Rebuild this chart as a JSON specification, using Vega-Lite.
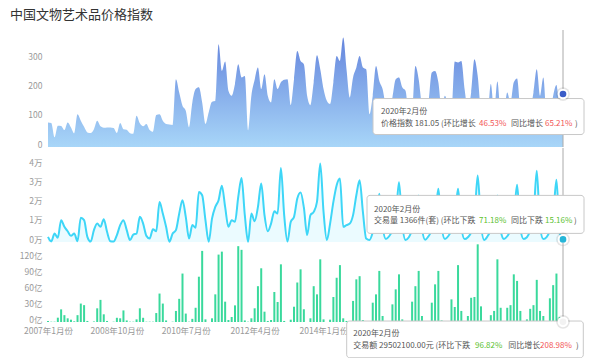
{
"$schema": "https://vega.github.io/schema/vega-lite/v6.json",
"padding": {"left": 0, "top": 8, "right": 5, "bottom": 0},
"title": {"text": "中国文物艺术品价格指数", "anchor": "start", "frame": "bounds", "fontSize": 13, "fontWeight": "normal", "color": "#333", "font": "Noto Sans CJK SC", "dx": 10, "offset": 8},
"config": {
  "font": "Noto Sans CJK SC",
  "view": {"stroke": null},
  "axis": {"labelColor": "#999", "labelFontSize": 8.5, "labelFont": "Noto Sans CJK SC", "ticks": false, "domain": false, "grid": false},
  "axisY": {"labelPadding": 6, "minExtent": 48, "maxExtent": 48, "labelOffset": -3},
  "axisX": {"labelPadding": 4, "labelAngle": 0}
},
"datasets": {
"d": [
{"m":"2007年1月份","p":84,"v":2700,"a":2},
{"m":"2007年2月份","p":82,"v":300,"a":0.6},
{"m":"2007年3月份","p":33,"v":4400,"a":0.6},
{"m":"2007年4月份","p":73,"v":2200,"a":8.2},
{"m":"2007年5月份","p":72,"v":11400,"a":24},
{"m":"2007年6月份","p":58,"v":7900,"a":13},
{"m":"2007年7月份","p":84,"v":5600,"a":7},
{"m":"2007年8月份","p":67,"v":3200,"a":4.4},
{"m":"2007年9月份","p":47,"v":4400,"a":1.3},
{"m":"2007年10月份","p":112,"v":400,"a":13},
{"m":"2007年11月份","p":90,"v":12600,"a":35},
{"m":"2007年12月份","p":69,"v":11400,"a":32},
{"m":"2008年1月份","p":50,"v":2700,"a":2},
{"m":"2008年2月份","p":48,"v":200,"a":0},
{"m":"2008年3月份","p":61,"v":6200,"a":1},
{"m":"2008年4月份","p":90,"v":9600,"a":26},
{"m":"2008年5月份","p":71,"v":7900,"a":42},
{"m":"2008年6月份","p":66,"v":11900,"a":14.6},
{"m":"2008年7月份","p":67,"v":5300,"a":2},
{"m":"2008年8月份","p":67,"v":400,"a":0},
{"m":"2008年9月份","p":65,"v":200,"a":0.6},
{"m":"2008年10月份","p":48,"v":3600,"a":8},
{"m":"2008年11月份","p":82,"v":8800,"a":7},
{"m":"2008年12月份","p":61,"v":11400,"a":22},
{"m":"2009年1月份","p":59,"v":6200,"a":3},
{"m":"2009年2月份","p":47,"v":1000,"a":0.6},
{"m":"2009年3月份","p":45,"v":3900,"a":0.6},
{"m":"2009年4月份","p":107,"v":4400,"a":5},
{"m":"2009年5月份","p":81,"v":13100,"a":26},
{"m":"2009年6月份","p":71,"v":9600,"a":8},
{"m":"2009年7月份","p":79,"v":3200,"a":0.6},
{"m":"2009年8月份","p":58,"v":1800,"a":0.6},
{"m":"2009年9月份","p":52,"v":6700,"a":0.6},
{"m":"2009年10月份","p":109,"v":5600,"a":17},
{"m":"2009年11月份","p":112,"v":20900,"a":54},
{"m":"2009年12月份","p":90,"v":14800,"a":35},
{"m":"2010年1月份","p":79,"v":7900,"a":3},
{"m":"2010年2月份","p":77,"v":100,"a":0},
{"m":"2010年3月份","p":75,"v":4400,"a":0.6},
{"m":"2010年4月份","p":232,"v":6200,"a":21},
{"m":"2010年5月份","p":186,"v":14800,"a":44},
{"m":"2010年6月份","p":141,"v":21800,"a":92},
{"m":"2010年7月份","p":124,"v":13100,"a":16},
{"m":"2010年8月份","p":67,"v":1800,"a":0.6},
{"m":"2010年9月份","p":152,"v":8800,"a":6},
{"m":"2010年10月份","p":198,"v":7400,"a":27},
{"m":"2010年11月份","p":204,"v":26100,"a":86},
{"m":"2010年12月份","p":152,"v":24400,"a":135},
{"m":"2011年1月份","p":79,"v":11400,"a":5},
{"m":"2011年2月份","p":119,"v":100,"a":0},
{"m":"2011年3月份","p":155,"v":12200,"a":7},
{"m":"2011年4月份","p":157,"v":18300,"a":52.5},
{"m":"2011年5月份","p":351,"v":21800,"a":128},
{"m":"2011年6月份","p":260,"v":29300,"a":133.6},
{"m":"2011年7月份","p":292,"v":18300,"a":38.6},
{"m":"2011年8月份","p":192,"v":7900,"a":3.8},
{"m":"2011年9月份","p":175,"v":11400,"a":9.5},
{"m":"2011年10月份","p":215,"v":10500,"a":31.6},
{"m":"2011年11月份","p":283,"v":23500,"a":144},
{"m":"2011年12月份","p":238,"v":33400,"a":137},
{"m":"2012年1月份","p":243,"v":14000,"a":3},
{"m":"2012年2月份","p":56,"v":100,"a":0.6},
{"m":"2012年3月份","p":175,"v":14800,"a":7},
{"m":"2012年4月份","p":230,"v":10800,"a":26},
{"m":"2012年5月份","p":272,"v":18300,"a":68},
{"m":"2012年6月份","p":198,"v":30500,"a":102},
{"m":"2012年7月份","p":249,"v":14000,"a":19.6},
{"m":"2012年8月份","p":175,"v":5600,"a":2},
{"m":"2012年9月份","p":152,"v":9600,"a":3.8},
{"m":"2012年10月份","p":232,"v":16000,"a":57},
{"m":"2012年11月份","p":198,"v":14800,"a":38},
{"m":"2012年12月份","p":221,"v":38600,"a":109.5},
{"m":"2013年1月份","p":230,"v":14000,"a":2},
{"m":"2013年2月份","p":232,"v":200,"a":0},
{"m":"2013年3月份","p":143,"v":10500,"a":4.4},
{"m":"2013年4月份","p":232,"v":13100,"a":29},
{"m":"2013年5月份","p":328,"v":22700,"a":75},
{"m":"2013年6月份","p":294,"v":25800,"a":100},
{"m":"2013年7月份","p":283,"v":18000,"a":24},
{"m":"2013年8月份","p":175,"v":3600,"a":0},
{"m":"2013年9月份","p":143,"v":14000,"a":7},
{"m":"2013年10月份","p":221,"v":15700,"a":68},
{"m":"2013年11月份","p":314,"v":20900,"a":52.5},
{"m":"2013年12月份","p":266,"v":40900,"a":119},
{"m":"2014年1月份","p":198,"v":15700,"a":5},
{"m":"2014年2月份","p":158,"v":1000,"a":0},
{"m":"2014年3月份","p":147,"v":9600,"a":4.4},
{"m":"2014年4月份","p":221,"v":20900,"a":47.5},
{"m":"2014年5月份","p":311,"v":29600,"a":84},
{"m":"2014年6月份","p":294,"v":33100,"a":108},
{"m":"2014年7月份","p":374,"v":7900,"a":7},
{"m":"2014年8月份","p":266,"v":8800,"a":2},
{"m":"2014年9月份","p":169,"v":9600,"a":1},
{"m":"2014年10月份","p":238,"v":14000,"a":40},
{"m":"2014年11月份","p":272,"v":24400,"a":81},
{"m":"2014年12月份","p":311,"v":32200,"a":87},
{"m":"2015年1月份","p":272,"v":15700,"a":3.8},
{"m":"2015年2月份","p":266,"v":1800,"a":0},
{"m":"2015年3月份","p":112,"v":1000,"a":0},
{"m":"2015年4月份","p":175,"v":5000,"a":36.7},
{"m":"2015年5月份","p":277,"v":12000,"a":52.5},
{"m":"2015年6月份","p":226,"v":25100,"a":97},
{"m":"2015年7月份","p":198,"v":8000,"a":11.4},
{"m":"2015年8月份","p":140,"v":1500,"a":1},
{"m":"2015年9月份","p":120,"v":3000,"a":1},
{"m":"2015年10月份","p":170,"v":6000,"a":33.5},
{"m":"2015年11月份","p":232,"v":12000,"a":62},
{"m":"2015年12月份","p":238,"v":31100,"a":90.5},
{"m":"2016年1月份","p":204,"v":9000,"a":5},
{"m":"2016年2月份","p":192,"v":1000,"a":1},
{"m":"2016年3月份","p":110,"v":2500,"a":1},
{"m":"2016年4月份","p":120,"v":6000,"a":38.6},
{"m":"2016年5月份","p":277,"v":10000,"a":68},
{"m":"2016年6月份","p":232,"v":24200,"a":97},
{"m":"2016年7月份","p":140,"v":7000,"a":11.4},
{"m":"2016年8月份","p":110,"v":1200,"a":1},
{"m":"2016年9月份","p":150,"v":3000,"a":1},
{"m":"2016年10月份","p":255,"v":6000,"a":36.7},
{"m":"2016年11月份","p":260,"v":12000,"a":71.5},
{"m":"2016年12月份","p":221,"v":27700,"a":97},
{"m":"2017年1月份","p":130,"v":8000,"a":3},
{"m":"2017年2月份","p":175,"v":1500,"a":1},
{"m":"2017年3月份","p":140,"v":3000,"a":1},
{"m":"2017年4月份","p":120,"v":6000,"a":43},
{"m":"2017年5月份","p":292,"v":12000,"a":28.5},
{"m":"2017年6月份","p":289,"v":27700,"a":108},
{"m":"2017年7月份","p":294,"v":8000,"a":21},
{"m":"2017年8月份","p":198,"v":1500,"a":1},
{"m":"2017年9月份","p":130,"v":2500,"a":11.4},
{"m":"2017年10月份","p":186,"v":5000,"a":46},
{"m":"2017年11月份","p":300,"v":12000,"a":47.5},
{"m":"2017年12月份","p":243,"v":34600,"a":147.5},
{"m":"2018年1月份","p":130,"v":9000,"a":29.7},
{"m":"2018年2月份","p":120,"v":1000,"a":1},
{"m":"2018年3月份","p":110,"v":3000,"a":1},
{"m":"2018年4月份","p":215,"v":6000,"a":13},
{"m":"2018年5月份","p":120,"v":10000,"a":21},
{"m":"2018年6月份","p":224,"v":24200,"a":119},
{"m":"2018年7月份","p":120,"v":6000,"a":27},
{"m":"2018年8月份","p":120,"v":1500,"a":1},
{"m":"2018年9月份","p":186,"v":3000,"a":27},
{"m":"2018年10月份","p":150,"v":6000,"a":32},
{"m":"2018年11月份","p":221,"v":12000,"a":90.5},
{"m":"2018年12月份","p":234,"v":29800,"a":78},
{"m":"2019年1月份","p":130,"v":7000,"a":21},
{"m":"2019年2月份","p":110,"v":1610,"a":0.1},
{"m":"2019年3月份","p":120,"v":2500,"a":5},
{"m":"2019年4月份","p":130,"v":6000,"a":25},
{"m":"2019年5月份","p":186,"v":13000,"a":32},
{"m":"2019年6月份","p":266,"v":37200,"a":80},
{"m":"2019年7月份","p":175,"v":8000,"a":21},
{"m":"2019年8月份","p":238,"v":1500,"a":11.4},
{"m":"2019年9月份","p":110,"v":2500,"a":1},
{"m":"2019年10月份","p":110,"v":6000,"a":45},
{"m":"2019年11月份","p":175,"v":13000,"a":70},
{"m":"2019年12月份","p":212,"v":32400,"a":92},
{"m":"2020年1月份","p":124,"v":4740,"a":9.28},
{"m":"2020年2月份","p":181.05,"v":1366,"a":0.295021}
],
"tip": [{"m":"2020年2月份","p":181.05,"v":1366,"a":0.295021}]
},
"spacing": 1,
"bounds": "flush",
"resolve": {"scale": {"y": "independent"}},
"vconcat": [
{
"width": 515, "height": 117,
"layer": [
{"data": {"name": "d"}, "mark": {"type": "area", "interpolate": "monotone", "fill": {"gradient": "linear", "x1": 0, "y1": 1, "x2": 0, "y2": 0, "stops": [{"offset": 0, "color": "#a8d6f8"}, {"offset": 1, "color": "#6585dd"}]}},
 "encoding": {"x": {"field":"m","type":"ordinal","sort":null,"scale":{"type":"point","padding":0},"axis":null}, "y": {"field":"p","type":"quantitative","title":null,"scale":{"domain":[0,400],"nice":false},"axis":{"values":[0,100,200,300]}}}},
{"data": {"name": "tip"}, "mark": {"type": "rule", "color": "#aaa", "strokeWidth": 1},
 "encoding": {"x": {"field":"m","type":"ordinal","sort":null,"scale":{"type":"point","padding":0},"axis":null}}},
{"data": {"name": "tip"}, "mark": {"type": "rect", "fill": "#fff", "stroke": "#c8c8c8", "strokeWidth": 1, "cornerRadius": 3, "xOffset": -190, "x2Offset": 21, "yOffset": 4.5, "y2Offset": 40.5},
 "encoding": {"x": {"field":"m","type":"ordinal","sort":null,"scale":{"type":"point","padding":0},"axis":null}, "x2": {"field": "m"}, "y": {"field":"p","type":"quantitative","title":null,"scale":{"domain":[0,400],"nice":false},"axis":{"values":[0,100,200,300]}}, "y2": {"field": "p"}}},
{"data": {"name": "tip"}, "mark": {"type": "point", "filled": true, "size": 190, "color": "#000", "opacity": 0.1},
 "encoding": {"x": {"field":"m","type":"ordinal","sort":null,"scale":{"type":"point","padding":0},"axis":null}, "y": {"field":"p","type":"quantitative","title":null,"scale":{"domain":[0,400],"nice":false},"axis":{"values":[0,100,200,300]}}}},
{"data": {"name": "tip"}, "mark": {"type": "point", "filled": true, "size": 75, "fill": "#3a5cc8", "stroke": "#fff", "strokeWidth": 2, "opacity": 1},
 "encoding": {"x": {"field":"m","type":"ordinal","sort":null,"scale":{"type":"point","padding":0},"axis":null}, "y": {"field":"p","type":"quantitative","title":null,"scale":{"domain":[0,400],"nice":false},"axis":{"values":[0,100,200,300]}}}},
{"data": {"name": "tip"}, "mark": {"type": "text", "text": "2020年2月份", "align": "left", "baseline": "middle", "dx": -182, "dy": 17.5, "fontSize": 8, "color": "#555"},
 "encoding": {"x": {"field":"m","type":"ordinal","sort":null,"scale":{"type":"point","padding":0},"axis":null}, "y": {"field":"p","type":"quantitative","title":null,"scale":{"domain":[0,400],"nice":false},"axis":{"values":[0,100,200,300]}}}},
{"data": {"name": "tip"}, "mark": {"type": "text", "text": "价格指数 181.05 (环比增长", "align": "left", "baseline": "middle", "dx": -182, "dy": 30, "fontSize": 8, "color": "#555"},
 "encoding": {"x": {"field":"m","type":"ordinal","sort":null,"scale":{"type":"point","padding":0},"axis":null}, "y": {"field":"p","type":"quantitative","title":null,"scale":{"domain":[0,400],"nice":false},"axis":{"values":[0,100,200,300]}}}},
{"data": {"name": "tip"}, "mark": {"type": "text", "text": "46.53%", "align": "left", "baseline": "middle", "dx": -84, "dy": 30, "fontSize": 8, "color": "#f25555"},
 "encoding": {"x": {"field":"m","type":"ordinal","sort":null,"scale":{"type":"point","padding":0},"axis":null}, "y": {"field":"p","type":"quantitative","title":null,"scale":{"domain":[0,400],"nice":false},"axis":{"values":[0,100,200,300]}}}},
{"data": {"name": "tip"}, "mark": {"type": "text", "text": "同比增长", "align": "left", "baseline": "middle", "dx": -52, "dy": 30, "fontSize": 8, "color": "#555"},
 "encoding": {"x": {"field":"m","type":"ordinal","sort":null,"scale":{"type":"point","padding":0},"axis":null}, "y": {"field":"p","type":"quantitative","title":null,"scale":{"domain":[0,400],"nice":false},"axis":{"values":[0,100,200,300]}}}},
{"data": {"name": "tip"}, "mark": {"type": "text", "text": "65.21%", "align": "left", "baseline": "middle", "dx": -18, "dy": 30, "fontSize": 8, "color": "#f25555"},
 "encoding": {"x": {"field":"m","type":"ordinal","sort":null,"scale":{"type":"point","padding":0},"axis":null}, "y": {"field":"p","type":"quantitative","title":null,"scale":{"domain":[0,400],"nice":false},"axis":{"values":[0,100,200,300]}}}},
{"data": {"name": "tip"}, "mark": {"type": "text", "text": ")", "align": "left", "baseline": "middle", "dx": 12, "dy": 30, "fontSize": 8, "color": "#555"},
 "encoding": {"x": {"field":"m","type":"ordinal","sort":null,"scale":{"type":"point","padding":0},"axis":null}, "y": {"field":"p","type":"quantitative","title":null,"scale":{"domain":[0,400],"nice":false},"axis":{"values":[0,100,200,300]}}}}
]
},
{
"width": 515, "height": 94,
"layer": [
{"data": {"name": "d"}, "mark": {"type": "area", "interpolate": "monotone", "color": "#ebfbff", "opacity": 1},
 "encoding": {"x": {"field":"m","type":"ordinal","sort":null,"scale":{"type":"point","padding":0},"axis":null}, "y": {"field":"v","type":"quantitative","title":null,"scale":{"domain":[0,49000],"nice":false},"axis":{"values":[0,10000,20000,30000,40000],"labelExpr":"datum.value/10000 + '万'"}}}},
{"data": {"name": "d"}, "mark": {"type": "line", "interpolate": "monotone", "color": "#3ed6f7", "strokeWidth": 2},
 "encoding": {"x": {"field":"m","type":"ordinal","sort":null,"scale":{"type":"point","padding":0},"axis":null}, "y": {"field":"v","type":"quantitative","title":null,"scale":{"domain":[0,49000],"nice":false},"axis":{"values":[0,10000,20000,30000,40000],"labelExpr":"datum.value/10000 + '万'"}}}},
{"data": {"name": "tip"}, "mark": {"type": "rule", "color": "#aaa", "strokeWidth": 1},
 "encoding": {"x": {"field":"m","type":"ordinal","sort":null,"scale":{"type":"point","padding":0},"axis":null}}},
{"data": {"name": "tip"}, "mark": {"type": "rect", "fill": "#fff", "stroke": "#c8c8c8", "strokeWidth": 1, "cornerRadius": 3, "xOffset": -196, "x2Offset": 21, "yOffset": -44, "y2Offset": -6},
 "encoding": {"x": {"field":"m","type":"ordinal","sort":null,"scale":{"type":"point","padding":0},"axis":null}, "x2": {"field": "m"}, "y": {"field":"v","type":"quantitative","title":null,"scale":{"domain":[0,49000],"nice":false},"axis":{"values":[0,10000,20000,30000,40000],"labelExpr":"datum.value/10000 + '万'"}}, "y2": {"field": "v"}}},
{"data": {"name": "tip"}, "mark": {"type": "point", "filled": true, "size": 190, "color": "#000", "opacity": 0.1},
 "encoding": {"x": {"field":"m","type":"ordinal","sort":null,"scale":{"type":"point","padding":0},"axis":null}, "y": {"field":"v","type":"quantitative","title":null,"scale":{"domain":[0,49000],"nice":false},"axis":{"values":[0,10000,20000,30000,40000],"labelExpr":"datum.value/10000 + '万'"}}}},
{"data": {"name": "tip"}, "mark": {"type": "point", "filled": true, "size": 75, "fill": "#27b6d8", "stroke": "#fff", "strokeWidth": 2, "opacity": 1},
 "encoding": {"x": {"field":"m","type":"ordinal","sort":null,"scale":{"type":"point","padding":0},"axis":null}, "y": {"field":"v","type":"quantitative","title":null,"scale":{"domain":[0,49000],"nice":false},"axis":{"values":[0,10000,20000,30000,40000],"labelExpr":"datum.value/10000 + '万'"}}}},
{"data": {"name": "tip"}, "mark": {"type": "text", "text": "2020年2月份", "align": "left", "baseline": "middle", "dx": -189, "dy": -29.6, "fontSize": 8, "color": "#555"},
 "encoding": {"x": {"field":"m","type":"ordinal","sort":null,"scale":{"type":"point","padding":0},"axis":null}, "y": {"field":"v","type":"quantitative","title":null,"scale":{"domain":[0,49000],"nice":false},"axis":{"values":[0,10000,20000,30000,40000],"labelExpr":"datum.value/10000 + '万'"}}}},
{"data": {"name": "tip"}, "mark": {"type": "text", "text": "交易量 1366件(套) (环比下跌", "align": "left", "baseline": "middle", "dx": -189, "dy": -18.2, "fontSize": 8, "color": "#555"},
 "encoding": {"x": {"field":"m","type":"ordinal","sort":null,"scale":{"type":"point","padding":0},"axis":null}, "y": {"field":"v","type":"quantitative","title":null,"scale":{"domain":[0,49000],"nice":false},"axis":{"values":[0,10000,20000,30000,40000],"labelExpr":"datum.value/10000 + '万'"}}}},
{"data": {"name": "tip"}, "mark": {"type": "text", "text": "71.18%", "align": "left", "baseline": "middle", "dx": -84, "dy": -18.2, "fontSize": 8, "color": "#5cbf2f"},
 "encoding": {"x": {"field":"m","type":"ordinal","sort":null,"scale":{"type":"point","padding":0},"axis":null}, "y": {"field":"v","type":"quantitative","title":null,"scale":{"domain":[0,49000],"nice":false},"axis":{"values":[0,10000,20000,30000,40000],"labelExpr":"datum.value/10000 + '万'"}}}},
{"data": {"name": "tip"}, "mark": {"type": "text", "text": "同比下跌", "align": "left", "baseline": "middle", "dx": -52, "dy": -18.2, "fontSize": 8, "color": "#555"},
 "encoding": {"x": {"field":"m","type":"ordinal","sort":null,"scale":{"type":"point","padding":0},"axis":null}, "y": {"field":"v","type":"quantitative","title":null,"scale":{"domain":[0,49000],"nice":false},"axis":{"values":[0,10000,20000,30000,40000],"labelExpr":"datum.value/10000 + '万'"}}}},
{"data": {"name": "tip"}, "mark": {"type": "text", "text": "15.16%", "align": "left", "baseline": "middle", "dx": -18, "dy": -18.2, "fontSize": 8, "color": "#5cbf2f"},
 "encoding": {"x": {"field":"m","type":"ordinal","sort":null,"scale":{"type":"point","padding":0},"axis":null}, "y": {"field":"v","type":"quantitative","title":null,"scale":{"domain":[0,49000],"nice":false},"axis":{"values":[0,10000,20000,30000,40000],"labelExpr":"datum.value/10000 + '万'"}}}},
{"data": {"name": "tip"}, "mark": {"type": "text", "text": ")", "align": "left", "baseline": "middle", "dx": 11, "dy": -18.2, "fontSize": 8, "color": "#555"},
 "encoding": {"x": {"field":"m","type":"ordinal","sort":null,"scale":{"type":"point","padding":0},"axis":null}, "y": {"field":"v","type":"quantitative","title":null,"scale":{"domain":[0,49000],"nice":false},"axis":{"values":[0,10000,20000,30000,40000],"labelExpr":"datum.value/10000 + '万'"}}}}
]
},
{
"width": 515, "height": 79,
"layer": [
{"data": {"name": "d"}, "mark": {"type": "bar", "size": 2, "color": "#3ad99c"},
 "encoding": {"x": {"field":"m","type":"ordinal","sort":null,"scale":{"type":"point","padding":0},"axis":{"values":["2007年1月份","2008年10月份","2010年7月份","2012年4月份","2014年1月份"],"title":null}}, "y": {"field":"a","type":"quantitative","title":null,"scale":{"domain":[0,150],"nice":false},"axis":{"values":[0,30,60,90,120],"labelExpr":"datum.value + '亿'"}}}},
{"data": {"name": "tip"}, "mark": {"type": "rule", "color": "#aaa", "strokeWidth": 1},
 "encoding": {"x": {"field":"m","type":"ordinal","sort":null,"scale":{"type":"point","padding":0},"axis":{"values":["2007年1月份","2008年10月份","2010年7月份","2012年4月份","2014年1月份"],"title":null}}}},
{"data": {"name": "tip"}, "mark": {"type": "rect", "fill": "#fff", "stroke": "#c8c8c8", "strokeWidth": 1, "cornerRadius": 3, "xOffset": -216.3, "x2Offset": 20.3, "yOffset": -0.8, "y2Offset": 35.9},
 "encoding": {"x": {"field":"m","type":"ordinal","sort":null,"scale":{"type":"point","padding":0},"axis":{"values":["2007年1月份","2008年10月份","2010年7月份","2012年4月份","2014年1月份"],"title":null}}, "x2": {"field": "m"}, "y": {"field":"a","type":"quantitative","title":null,"scale":{"domain":[0,150],"nice":false},"axis":{"values":[0,30,60,90,120],"labelExpr":"datum.value + '亿'"}}, "y2": {"field": "a"}}},
{"data": {"name": "tip"}, "mark": {"type": "point", "filled": true, "size": 190, "color": "#000", "opacity": 0.1},
 "encoding": {"x": {"field":"m","type":"ordinal","sort":null,"scale":{"type":"point","padding":0},"axis":{"values":["2007年1月份","2008年10月份","2010年7月份","2012年4月份","2014年1月份"],"title":null}}, "y": {"field":"a","type":"quantitative","title":null,"scale":{"domain":[0,150],"nice":false},"axis":{"values":[0,30,60,90,120],"labelExpr":"datum.value + '亿'"}}}},
{"data": {"name": "tip"}, "mark": {"type": "point", "filled": true, "size": 75, "fill": "#f2f2f2", "stroke": "#fff", "strokeWidth": 2, "opacity": 1},
 "encoding": {"x": {"field":"m","type":"ordinal","sort":null,"scale":{"type":"point","padding":0},"axis":{"values":["2007年1月份","2008年10月份","2010年7月份","2012年4月份","2014年1月份"],"title":null}}, "y": {"field":"a","type":"quantitative","title":null,"scale":{"domain":[0,150],"nice":false},"axis":{"values":[0,30,60,90,120],"labelExpr":"datum.value + '亿'"}}}},
{"data": {"name": "tip"}, "mark": {"type": "text", "text": "2020年2月份", "align": "left", "baseline": "middle", "dx": -209.7, "dy": 11.9, "fontSize": 8, "color": "#555"},
 "encoding": {"x": {"field":"m","type":"ordinal","sort":null,"scale":{"type":"point","padding":0},"axis":{"values":["2007年1月份","2008年10月份","2010年7月份","2012年4月份","2014年1月份"],"title":null}}, "y": {"field":"a","type":"quantitative","title":null,"scale":{"domain":[0,150],"nice":false},"axis":{"values":[0,30,60,90,120],"labelExpr":"datum.value + '亿'"}}}},
{"data": {"name": "tip"}, "mark": {"type": "text", "text": "交易额 29502100.00元 (环比下跌", "align": "left", "baseline": "middle", "dx": -209.7, "dy": 24.5, "fontSize": 8, "color": "#555"},
 "encoding": {"x": {"field":"m","type":"ordinal","sort":null,"scale":{"type":"point","padding":0},"axis":{"values":["2007年1月份","2008年10月份","2010年7月份","2012年4月份","2014年1月份"],"title":null}}, "y": {"field":"a","type":"quantitative","title":null,"scale":{"domain":[0,150],"nice":false},"axis":{"values":[0,30,60,90,120],"labelExpr":"datum.value + '亿'"}}}},
{"data": {"name": "tip"}, "mark": {"type": "text", "text": "96.82%", "align": "left", "baseline": "middle", "dx": -88, "dy": 24.5, "fontSize": 8, "color": "#5cbf2f"},
 "encoding": {"x": {"field":"m","type":"ordinal","sort":null,"scale":{"type":"point","padding":0},"axis":{"values":["2007年1月份","2008年10月份","2010年7月份","2012年4月份","2014年1月份"],"title":null}}, "y": {"field":"a","type":"quantitative","title":null,"scale":{"domain":[0,150],"nice":false},"axis":{"values":[0,30,60,90,120],"labelExpr":"datum.value + '亿'"}}}},
{"data": {"name": "tip"}, "mark": {"type": "text", "text": "同比增长", "align": "left", "baseline": "middle", "dx": -54.7, "dy": 24.5, "fontSize": 8, "color": "#555"},
 "encoding": {"x": {"field":"m","type":"ordinal","sort":null,"scale":{"type":"point","padding":0},"axis":{"values":["2007年1月份","2008年10月份","2010年7月份","2012年4月份","2014年1月份"],"title":null}}, "y": {"field":"a","type":"quantitative","title":null,"scale":{"domain":[0,150],"nice":false},"axis":{"values":[0,30,60,90,120],"labelExpr":"datum.value + '亿'"}}}},
{"data": {"name": "tip"}, "mark": {"type": "text", "text": "208.98%", "align": "left", "baseline": "middle", "dx": -23, "dy": 24.5, "fontSize": 8, "color": "#f25555"},
 "encoding": {"x": {"field":"m","type":"ordinal","sort":null,"scale":{"type":"point","padding":0},"axis":{"values":["2007年1月份","2008年10月份","2010年7月份","2012年4月份","2014年1月份"],"title":null}}, "y": {"field":"a","type":"quantitative","title":null,"scale":{"domain":[0,150],"nice":false},"axis":{"values":[0,30,60,90,120],"labelExpr":"datum.value + '亿'"}}}},
{"data": {"name": "tip"}, "mark": {"type": "text", "text": ")", "align": "left", "baseline": "middle", "dx": 13, "dy": 24.5, "fontSize": 8, "color": "#555"},
 "encoding": {"x": {"field":"m","type":"ordinal","sort":null,"scale":{"type":"point","padding":0},"axis":{"values":["2007年1月份","2008年10月份","2010年7月份","2012年4月份","2014年1月份"],"title":null}}, "y": {"field":"a","type":"quantitative","title":null,"scale":{"domain":[0,150],"nice":false},"axis":{"values":[0,30,60,90,120],"labelExpr":"datum.value + '亿'"}}}}
]
}
]
}
